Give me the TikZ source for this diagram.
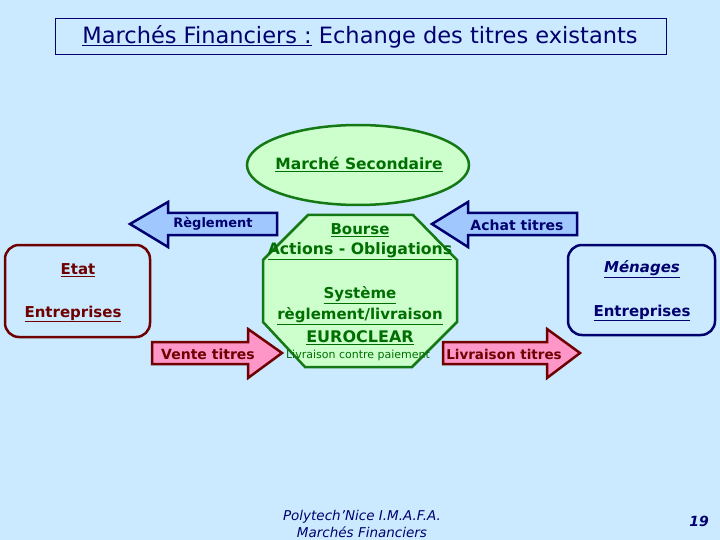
\documentclass[tikz,border=0pt]{standalone}
\usepackage{fontspec}
\setmainfont{DejaVu Sans}
\usetikzlibrary{shapes.geometric}
\definecolor{bg}{RGB}{204,234,255}
\definecolor{navy}{RGB}{0,0,110}
\definecolor{dgreen}{RGB}{0,110,0}
\definecolor{bgreen}{RGB}{20,120,20}
\definecolor{lgreen}{RGB}{204,255,204}
\definecolor{dred}{RGB}{110,0,0}
\definecolor{bluefill}{RGB}{160,200,255}
\definecolor{pinkfill}{RGB}{255,150,200}
\tikzset{
  lbl/.style={font=\bfseries\fontsize{14}{16}\selectfont, inner sep=0pt},
  glbl/.style={text=dgreen, inner sep=0pt, font=\bfseries\fontsize{15}{17}\selectfont},
  bluearrow/.style={draw=navy, fill=bluefill, line width=2.5pt, line join=miter},
  pinkarrow/.style={draw=dred, fill=pinkfill, line width=2.5pt, line join=miter},
  greenshape/.style={draw=bgreen, fill=lgreen, line width=2.5pt},
}
\begin{document}
\begin{tikzpicture}[x=1pt,y=-1pt]
\fill[bg] (0,0) rectangle (720,540);
\useasboundingbox (0,0) rectangle (720,540);
% title
\node[draw=navy, line width=0.8pt, fill=bg, minimum width=611, minimum height=36, anchor=north west, inner sep=0pt] (title) at (55,18) {};
\node[text=navy, font=\fontsize{22.5}{26}\selectfont] (titletext) at (360,37) {\underline{Marchés Financiers :} Echange des titres existants};
% ellipse
\node[ellipse, greenshape, minimum width=222, minimum height=80, inner sep=0pt] (ms) at (358,165) {};
\node[glbl, font=\bfseries\fontsize{15.5}{17}\selectfont] (mstext) at (359,164) {\underline{Marché Secondaire}};
% octagon
\draw[greenshape] (308,215) -- (413,215) -- (457,260) -- (457,322) -- (412,367) -- (305,367) -- (263,322) -- (263,260) -- cycle;
\node[glbl] (bourse) at (360,230) {\underline{Bourse}};
\node[glbl, font=\bfseries\fontsize{15.7}{17}\selectfont] (actions) at (360,251) {\underline{Actions - Obligations}};
\node[glbl] (systeme) at (360,295) {\underline{Système}};
\node[glbl] (reglivr) at (360,316) {\underline{règlement/livraison}};
\node[glbl, font=\bfseries\fontsize{16}{18}\selectfont] (euro) at (360,338) {\underline{EUROCLEAR}};
\node[text=dgreen, inner sep=0pt, font=\fontsize{11}{13}\selectfont] (lcp) at (358,355) {Livraison contre paiement};
% blue arrows
\draw[bluearrow] (130,224) -- (168,202) -- (168,213) -- (277,213) -- (277,235) -- (168,235) -- (168,247) -- cycle;
\node[lbl, font=\bfseries\fontsize{13}{15}\selectfont, text=navy] (regl) at (213,224) {Règlement};
\draw[bluearrow] (432,224) -- (468,202) -- (468,213) -- (577,213) -- (577,235) -- (468,235) -- (468,247) -- cycle;
\node[lbl, text=navy] (achat) at (517,225) {Achat titres};
% pink arrows
\draw[pinkarrow] (152,342) -- (248,342) -- (248,329) -- (282,353) -- (248,378) -- (248,364) -- (152,364) -- cycle;
\node[lbl, text=dred] (vente) at (208,354) {Vente titres};
\draw[pinkarrow] (443,342) -- (547,342) -- (547,329) -- (580,353) -- (547,378) -- (547,364) -- (443,364) -- cycle;
\node[lbl, font=\bfseries\fontsize{13.5}{15}\selectfont, text=dred] (livr) at (504,354) {Livraison titres};
% side boxes
\draw[draw=dred, line width=2.5pt, rounded corners=14pt] (5,245) rectangle (150,337);
\node[lbl, font=\bfseries\fontsize{15}{17}\selectfont, text=dred] (etat) at (78,270) {\underline{Etat}};
\node[lbl, font=\bfseries\fontsize{15}{17}\selectfont, text=dred] (entr1) at (73,314) {\underline{Entreprises}};
\draw[draw=navy, line width=2.5pt, rounded corners=14pt] (568,245) rectangle (715,335);
\node[lbl, font=\bfseries\fontsize{15}{17}\selectfont, text=navy] (menages) at (642,269) {\underline{\itshape Ménages}};
\node[lbl, font=\bfseries\fontsize{15}{17}\selectfont, text=navy] (entr2) at (642,313) {\underline{Entreprises}};
% footer
\node[text=navy, font=\itshape\fontsize{13.5}{17}\selectfont, align=center, inner sep=0pt] (footer) at (362,524) {Polytech'Nice I.M.A.F.A.\\Marchés Financiers};
\node[text=navy, font=\bfseries\itshape\fontsize{14}{16}\selectfont, inner sep=0pt] (page) at (699,521) {19};
\end{tikzpicture}
\end{document}
